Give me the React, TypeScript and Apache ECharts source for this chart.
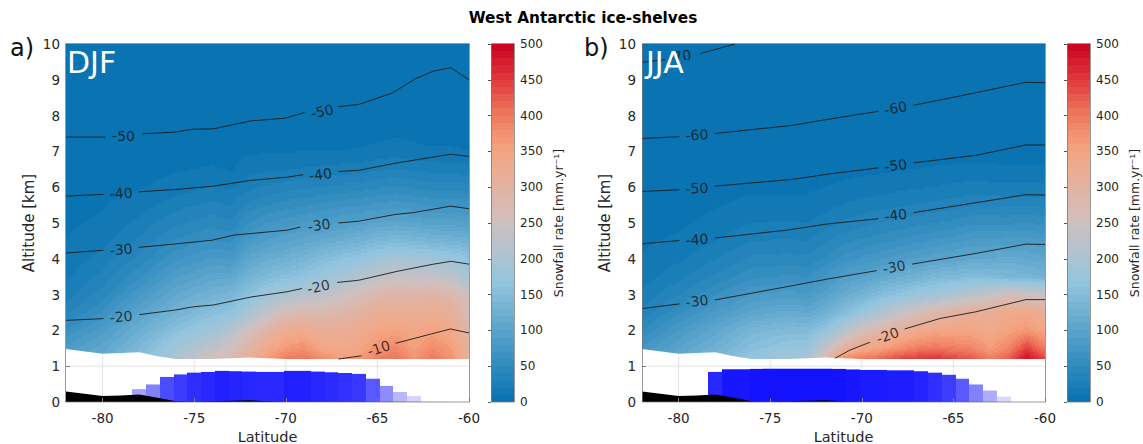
import React, { useEffect, useRef } from "react";
import * as echarts from "echarts";

const latNodes = [-82, -80, -78, -76, -74, -73, -72, -71, -70, -69, -68, -67, -66, -65, -64, -63, -62, -61, -60];
const altNodes = [1.2, 1.5, 2, 2.5, 3, 3.5, 4, 4.5, 5, 5.5, 6, 6.5, 7, 7.5, 8, 10];

const djfField = [
  [95, 115, 150, 205, 255, 280, 320, 365, 395, 405, 380, 355, 365, 390, 405, 370, 400, 375, 310],
  [85, 105, 140, 185, 225, 250, 295, 335, 365, 375, 345, 335, 345, 370, 385, 355, 380, 360, 300],
  [60, 85, 120, 155, 185, 215, 255, 295, 325, 330, 315, 320, 330, 345, 350, 340, 350, 340, 285],
  [38, 62, 100, 130, 155, 165, 200, 235, 265, 280, 280, 290, 300, 320, 325, 320, 325, 315, 270],
  [25, 45, 78, 110, 130, 135, 160, 185, 205, 215, 225, 245, 265, 285, 295, 290, 300, 285, 245],
  [18, 33, 58, 88, 105, 108, 130, 145, 155, 165, 180, 195, 210, 230, 240, 235, 235, 225, 195],
  [13, 24, 43, 68, 82, 78, 105, 118, 125, 135, 150, 160, 170, 185, 195, 190, 185, 180, 165],
  [10, 17, 32, 52, 62, 58, 80, 92, 98, 105, 112, 120, 128, 138, 145, 140, 135, 130, 125],
  [8, 12, 23, 38, 46, 42, 60, 70, 75, 80, 85, 90, 95, 100, 105, 100, 95, 95, 92],
  [6, 9, 15, 26, 33, 29, 43, 50, 55, 58, 62, 66, 68, 72, 75, 72, 68, 68, 66],
  [4, 7, 9, 14, 21, 18, 27, 32, 35, 38, 40, 43, 45, 48, 51, 48, 45, 45, 43],
  [3, 5, 6, 9, 11, 9, 16, 18, 19, 21, 22, 24, 25, 28, 31, 28, 26, 25, 24],
  [2, 3, 4, 6, 6, 6, 8, 9, 9, 10, 10, 10, 11, 13, 14, 12, 11, 11, 10],
  [2, 2, 3, 4, 4, 4, 5, 5, 5, 5, 6, 6, 6, 7, 9, 8, 7, 7, 6],
  [1, 2, 2, 3, 3, 3, 3, 4, 4, 4, 5, 5, 5, 5, 6, 5, 5, 5, 4],
  [1, 1, 1, 1, 1, 1, 2, 2, 2, 2, 2, 2, 2, 2, 2, 2, 2, 2, 2],
];

const jjaField = [
  [80, 110, 140, 170, 190, 195, 280, 385, 400, 415, 440, 450, 455, 440, 430, 395, 420, 490, 440],
  [72, 100, 125, 155, 170, 175, 225, 300, 335, 350, 375, 395, 400, 395, 385, 360, 385, 445, 395],
  [50, 80, 105, 135, 145, 145, 165, 210, 255, 285, 310, 330, 345, 345, 345, 335, 350, 365, 345],
  [33, 58, 82, 105, 115, 110, 125, 150, 180, 205, 235, 265, 285, 305, 320, 320, 335, 340, 320],
  [22, 40, 60, 80, 85, 82, 95, 115, 130, 150, 165, 180, 190, 205, 225, 240, 260, 255, 240],
  [15, 27, 42, 58, 62, 60, 72, 90, 98, 108, 118, 128, 140, 145, 150, 145, 140, 135, 130],
  [11, 18, 29, 42, 44, 42, 52, 65, 72, 78, 85, 92, 98, 102, 110, 110, 115, 110, 105],
  [8, 12, 20, 30, 31, 30, 38, 47, 52, 57, 62, 67, 72, 76, 82, 82, 85, 85, 80],
  [6, 8, 13, 20, 21, 20, 25, 32, 36, 40, 43, 47, 50, 53, 58, 58, 58, 60, 56],
  [4, 6, 9, 13, 13, 13, 16, 21, 24, 26, 28, 31, 33, 35, 38, 38, 37, 38, 37],
  [3, 4, 6, 8, 8, 8, 10, 12, 14, 15, 17, 19, 20, 22, 24, 23, 22, 22, 22],
  [2, 2, 4, 5, 5, 5, 6, 7, 7, 8, 9, 10, 11, 12, 12, 12, 11, 11, 11],
  [2, 2, 2, 3, 3, 3, 4, 4, 4, 4, 5, 5, 5, 5, 6, 6, 6, 6, 6],
  [1, 1, 2, 2, 2, 2, 2, 2, 2, 3, 3, 3, 3, 3, 3, 3, 3, 3, 3],
  [1, 1, 1, 1, 1, 1, 1, 2, 2, 2, 2, 2, 2, 2, 2, 2, 2, 2, 2],
  [1, 1, 1, 1, 1, 1, 1, 1, 1, 1, 1, 1, 1, 1, 1, 1, 1, 1, 1],
];

const G: any = [null, null];

const djfContours = [
  [[-82, 7.4], [-79.84, 7.4], G, [-77.84, 7.49], [-76.02, 7.54], [-75.04, 7.62], [-73.95, 7.63], [-71.93, 7.85], [-70.02, 7.93], [-69.2, 8.05], [-68.98, 8.09], G, [-67.13, 8.25], [-66.03, 8.31], [-64.19, 8.63], [-62.92, 9.03], [-61.94, 9.24], [-61, 9.34], [-60, 9]],
  [[-82, 5.75], [-79.95, 5.8], G, [-78.04, 5.87], [-75.93, 5.94], [-73.95, 6.03], [-71.93, 6.19], [-69.93, 6.28], [-69.05, 6.35], G, [-67.13, 6.44], [-66.03, 6.47], [-63.92, 6.68], [-61.01, 6.92], [-60, 6.86]],
  [[-82, 4.16], [-79.95, 4.24], G, [-78.04, 4.32], [-76.13, 4.41], [-74.02, 4.52], [-72.86, 4.66], [-69.93, 4.8], [-69.2, 4.89], G, [-67.13, 5], [-66.03, 5.05], [-64.01, 5.24], [-63.03, 5.29], [-61.01, 5.47], [-60, 5.4]],
  [[-82, 2.28], [-79.95, 2.33], G, [-78, 2.44], [-76.02, 2.57], [-75.04, 2.66], [-73.95, 2.71], [-71.93, 2.93], [-69.93, 3.08], [-69.11, 3.17], G, [-67.2, 3.34], [-66.03, 3.4], [-63.92, 3.65], [-61.94, 3.85], [-60.97, 3.93], [-60, 3.85]],
  [[-67.13, 1.2], [-65.87, 1.29], G, [-64.01, 1.64], [-61.01, 2.04], [-60, 1.93]],
];

const jjaContours = [
  [[-82, 9.49], [-80.74, 9.56], G, [-78.83, 9.73], [-76.92, 10]],
  [[-82, 7.36], [-79.96, 7.41], G, [-78.02, 7.5], [-73.76, 7.73], [-71.92, 7.89], [-69.1, 8.12], G, [-67.17, 8.29], [-66.28, 8.38], [-63.77, 8.64], [-61.04, 8.93], [-60, 8.92]],
  [[-82, 5.88], [-79.96, 5.93], G, [-78.02, 6.03], [-73.76, 6.22], [-71.92, 6.36], [-69.1, 6.54], G, [-67.17, 6.68], [-63.77, 6.89], [-61.04, 7.18], [-60, 7.18]],
  [[-82, 4.42], [-79.96, 4.51], G, [-78.02, 4.58], [-74.1, 4.8], [-71.92, 4.97], [-69.1, 5.12], G, [-67.17, 5.29], [-61.04, 5.79], [-60, 5.78]],
  [[-82, 2.61], [-79.96, 2.74], G, [-78.02, 2.85], [-74.1, 3.22], [-71.92, 3.43], [-69.19, 3.67], G, [-67.26, 3.85], [-63.77, 4.15], [-61.04, 4.41], [-60, 4.4]],
  [[-71.47, 1.22], [-70.65, 1.45], [-69.55, 1.67], G, [-67.66, 2.04], [-65.75, 2.33], [-63.77, 2.52], [-61.04, 2.86], [-60, 2.86]],
];

// [lat, alt, text, rotation]
const djfLabels: any[] = [
  [-78.86, 7.42, "-50", 0], [-68.01, 8.12, "-50", 12],
  [-78.99, 5.83, "-40", 3], [-68.11, 6.36, "-40", 8],
  [-78.99, 4.26, "-30", 5], [-68.18, 4.94, "-30", 8],
  [-78.99, 2.38, "-20", 5], [-68.22, 3.22, "-20", 12],
  [-64.93, 1.5, "-10", 18],
];
const jjaLabels: any[] = [
  [-79.93, 9.66, "-70", 8],
  [-79, 7.46, "-60", 3], [-68.15, 8.21, "-60", 10],
  [-79, 5.97, "-50", 3], [-68.15, 6.61, "-50", 7],
  [-79, 4.54, "-40", 4], [-68.15, 5.22, "-40", 7],
  [-79, 2.82, "-30", 6], [-68.23, 3.77, "-30", 10],
  [-68.59, 1.86, "-20", 20],
];

const surface = [[-82, 1.48], [-80, 1.35], [-78, 1.39], [-77, 1.28], [-76, 1.2], [-74, 1.2], [-72, 1.24], [-70, 1.2], [-60, 1.2]];
const terrain = [[-82, 0.29], [-80, 0.17], [-79, 0.18], [-78, 0.21], [-77, 0.12], [-76, 0.02], [-75, 0.01], [-72, 0.05], [-71, 0.02], [-70, 0.01], [-60, 0]];
const gridLines = [[-80, 0], [-80, 1.35], G, [-75, 0], [-75, 1.2], G, [-70, 0], [-70, 1.2], G, [-65, 0], [-65, 1.2], G, [-82, 1], [-60, 1]];

const djfBarLat = [-78, -77.25, -76.5, -75.75, -75, -74.25, -73.5, -72.75, -72, -71.25, -70.5, -69.75, -69, -68.25, -67.5, -66.75, -66, -65.25, -64.5, -63.75, -63];
const djfBarVal = [0.36, 0.49, 0.7, 0.77, 0.82, 0.84, 0.87, 0.86, 0.85, 0.84, 0.84, 0.87, 0.87, 0.85, 0.83, 0.81, 0.785, 0.65, 0.45, 0.28, 0.17];
const jjaBarLat = [-78, -77.25, -76.5, -75.75, -75, -74.25, -73.5, -72.75, -72, -71.25, -70.5, -69.75, -69, -68.25, -67.5, -66.75, -66, -65.25, -64.5, -63.75, -63, -62.25];
const jjaBarVal = [0.84, 0.915, 0.915, 0.925, 0.93, 0.93, 0.93, 0.93, 0.93, 0.925, 0.91, 0.895, 0.895, 0.885, 0.885, 0.86, 0.82, 0.76, 0.65, 0.49, 0.32, 0.15];
const BAR_HALF = 0.375;

const cbLevels = [0, 10, 20, 30, 40, 50, 60, 70, 80, 90, 100, 110, 120, 130, 140, 150, 160, 170, 180, 190, 200, 210, 220, 230, 240, 250, 260, 270, 280, 290, 300, 310, 320, 330, 340, 350, 360, 370, 380, 390, 400, 410, 420, 430, 440, 450, 460, 470, 480, 490];
const cmapValues = [0, 166, 250, 350, 400, 450, 500];
const cmapColors = [[5, 113, 176], [146, 197, 222], [207, 192, 192], [245, 165, 130], [238, 122, 93], [223, 58, 60], [202, 0, 32]];

const latTicks = [-80, -75, -70, -65, -60];
const FONT = "DejaVu Sans";
const TEXT = "#262626";
const STEP = 2;

function colorOf(v: number) {
  const level = Math.max(0, Math.min(49, Math.floor(v / 10)));
  const c = (level + 0.5) * 10;
  let i = 0;
  while (i < cmapValues.length - 2 && c > cmapValues[i + 1]) i++;
  const f = (c - cmapValues[i]) / (cmapValues[i + 1] - cmapValues[i]);
  const a = cmapColors[i];
  const b = cmapColors[i + 1];
  return `rgb(${Math.round(a[0] + (b[0] - a[0]) * f)},${Math.round(a[1] + (b[1] - a[1]) * f)},${Math.round(a[2] + (b[2] - a[2]) * f)})`;
}

function fieldRows(field: number[][]) {
  const rows: number[][] = [];
  for (let j = 0; j + 1 < altNodes.length; j++)
    for (let i = 0; i + 1 < latNodes.length; i++)
      rows.push([latNodes[i], altNodes[j], latNodes[i + 1], altNodes[j + 1], field[j][i], field[j][i + 1], field[j + 1][i], field[j + 1][i + 1]]);
  return rows;
}

// Shaded (bilinear) drawing of one table cell, banded on the colour bar's levels.
function renderCell(_: any, api: any) {
  const a = api.coord([api.value(0), api.value(1)]);
  const b = api.coord([api.value(2), api.value(3)]);
  const x0 = Math.round(a[0]), x1 = Math.round(b[0]), yB = Math.round(a[1]), yT = Math.round(b[1]);
  const v00 = api.value(4), v10 = api.value(5), v01 = api.value(6), v11 = api.value(7);
  const children: any[] = [];
  for (let py = yT; py < yB; py += STEP) {
    const h = Math.min(STEP, yB - py);
    const t = (yB - (py + h / 2)) / (yB - yT);
    let runStart = x0;
    let runColor = "";
    for (let px = x0; px < x1; px += STEP) {
      const w = Math.min(STEP, x1 - px);
      const s = (px + w / 2 - x0) / (x1 - x0);
      const v = v00 * (1 - s) * (1 - t) + v10 * s * (1 - t) + v01 * (1 - s) * t + v11 * s * t;
      const c = colorOf(v);
      if (c !== runColor) {
        if (runColor) children.push({ type: "rect", shape: { x: runStart, y: py, width: px - runStart, height: h }, style: { fill: runColor } });
        runStart = px;
        runColor = c;
      }
    }
    children.push({ type: "rect", shape: { x: runStart, y: py, width: x1 - runStart, height: h }, style: { fill: runColor } });
  }
  return { type: "group", silent: true, children };
}

function renderBar(_: any, api: any) {
  const lat = api.value(0), h = api.value(1);
  const a = api.coord([lat - BAR_HALF, h]);
  const b = api.coord([lat + BAR_HALF, 0]);
  const x0 = Math.round(a[0]), x1 = Math.round(b[0]);
  return { type: "rect", shape: { x: x0, y: a[1], width: x1 - x0, height: b[1] - a[1] }, style: { fill: `rgba(0,0,255,${h})` } };
}

function renderLevel(_: any, api: any) {
  const lv = api.value(0);
  const a = api.coord([0, lv + 10]);
  const b = api.coord([1, lv]);
  const yT = Math.round(a[1]), yB = Math.round(b[1]);
  return { type: "rect", shape: { x: a[0], y: yT, width: b[0] - a[0], height: yB - yT }, style: { fill: colorOf(lv + 5) } };
}

function panelSeries(xi: number, field: number[][], contours: any[], labels: any[], barLat: number[], barVal: number[]) {
  const ax = { xAxisIndex: xi, yAxisIndex: xi };
  const series: any[] = [
    { ...ax, type: "custom", z: 1, silent: true, clip: false, renderItem: renderCell, data: fieldRows(field), encode: { x: [0, 2], y: [1, 3] } },
    { ...ax, type: "line", z: 2, silent: true, symbol: "none", lineStyle: { width: 0 }, areaStyle: { color: "#fff", opacity: 1 }, data: surface },
    { ...ax, type: "line", z: 3, silent: true, symbol: "none", lineStyle: { width: 1, color: "#e4e4e4" }, data: gridLines },
    { ...ax, type: "custom", z: 4, silent: true, renderItem: renderBar, data: barLat.map((l, i) => [l, barVal[i]]), encode: { x: 0, y: 1 } },
    { ...ax, type: "line", z: 5, silent: true, symbol: "none", lineStyle: { width: 0 }, areaStyle: { color: "#000", opacity: 1 }, data: terrain },
  ];
  contours.forEach((c) => series.push({ ...ax, type: "line", z: 6, silent: true, symbol: "none", lineStyle: { width: 0.9, color: "#1c1c1c" }, data: c }));
  series.push({
    ...ax, type: "scatter", z: 7, silent: true, symbol: "circle", symbolSize: 1, itemStyle: { color: "transparent" },
    data: labels.map((l) => ({
      value: [l[0], l[1]],
      label: { show: true, position: "inside", formatter: l[2], rotate: l[3], fontFamily: FONT, fontSize: 14, color: "#141414" },
    })),
  });
  return series;
}

function panelAxes(left: number) {
  const grid = { left, top: 44, width: 403, height: 358, outerBoundsMode: "none", containLabel: false };
  const x = {
    type: "value", min: -82, max: -60, position: "bottom", z: 20,
    splitLine: { show: false }, axisLine: { show: false },
    axisTick: { show: true, inside: true, length: 4, customValues: latTicks, lineStyle: { color: "#808080" } },
    axisLabel: { show: true, customValues: latTicks, margin: 9, fontFamily: FONT, fontSize: 13.5, color: TEXT },
    name: "Latitude", nameLocation: "middle", nameGap: 24, nameTextStyle: { fontFamily: FONT, fontSize: 14.5, color: TEXT },
  };
  const y = {
    type: "value", min: 0, max: 10, interval: 1, position: "left", z: 20,
    splitLine: { show: false }, axisLine: { show: false },
    axisTick: { show: true, inside: true, length: 4, customValues: [1], lineStyle: { color: "#808080" } },
    axisLabel: { show: true, margin: 6, fontFamily: FONT, fontSize: 13.5, color: TEXT },
    name: "Altitude [km]", nameLocation: "middle", nameGap: 30, nameTextStyle: { fontFamily: FONT, fontSize: 15, color: TEXT },
  };
  return { grid, x, y };
}

function barAxes(left: number) {
  const grid = { left, top: 44, width: 23, height: 358, outerBoundsMode: "none", containLabel: false };
  const x = { type: "value", min: 0, max: 1, show: false };
  const y = {
    type: "value", min: 0, max: 500, interval: 50, position: "right", z: 20,
    splitLine: { show: false }, axisLine: { show: false },
    axisTick: { show: true, inside: true, length: 3, lineStyle: { color: "#555" } },
    axisLabel: { show: true, margin: 6, fontFamily: FONT, fontSize: 12, color: TEXT },
    name: "Snowfall rate [mm.yr\u207B\u00B9]", nameLocation: "middle", nameGap: 38, nameRotate: 90, nameTextStyle: { fontFamily: FONT, fontSize: 12.5, color: TEXT },
  };
  return { grid, x, y };
}

const frame = (x: number, w: number) => ({
  type: "rect", z: 50, silent: true, shape: { x: x + 0.5, y: 43.5, width: w, height: 358.5 },
  style: { fill: "none", stroke: "rgba(120,120,120,0.75)", lineWidth: 1 },
});
const text = (t: string, x: number, y: number, size: number, color: string) => ({
  type: "text", z: 60, silent: true, x, y, style: { text: t, fontFamily: FONT, fontSize: size, fill: color, verticalAlign: "middle" },
});

export default function App() {
  const ref = useRef<HTMLDivElement>(null);
  useEffect(() => {
    document.body.style.margin = "0";
    const chart = echarts.init(ref.current!, undefined, { renderer: "svg" });
    const pa = panelAxes(66), ca = barAxes(491), pb = panelAxes(642), cb = barAxes(1067);
    const levelSeries = (i: number) => ({
      type: "custom", xAxisIndex: i, yAxisIndex: i, silent: true, renderItem: renderLevel, data: cbLevels.map((v) => [v]), encode: { y: 0 },
    });
    chart.setOption({
      animation: false,
      backgroundColor: "#fff",
      tooltip: { show: false },
      title: { text: "West Antarctic ice-shelves", left: 578, top: 5, textAlign: "center", textStyle: { fontFamily: FONT, fontSize: 15.3, fontWeight: "bold", color: "#000" } },
      grid: [pa.grid, ca.grid, pb.grid, cb.grid],
      xAxis: [pa.x, ca.x, pb.x, cb.x].map((a, i) => ({ ...a, gridIndex: i })),
      yAxis: [pa.y, ca.y, pb.y, cb.y].map((a, i) => ({ ...a, gridIndex: i })),
      series: [
        ...panelSeries(0, djfField, djfContours, djfLabels, djfBarLat, djfBarVal),
        levelSeries(1),
        ...panelSeries(2, jjaField, jjaContours, jjaLabels, jjaBarLat, jjaBarVal),
        levelSeries(3),
      ],
      graphic: [
        frame(65, 404), frame(491, 23), frame(642, 403), frame(1067, 23),
        text("a)", 10, 48, 24, "#111"),
        text("b)", 584, 48, 24, "#111"),
        text("DJF", 67, 62, 30, "#fff"),
        text("JJA", 646, 62, 30, "#fff"),
      ],
    });
    return () => chart.dispose();
  }, []);
  return <div ref={ref} style={{ position: "fixed", left: 0, top: 0, width: 1143, height: 444 }} />;
}
